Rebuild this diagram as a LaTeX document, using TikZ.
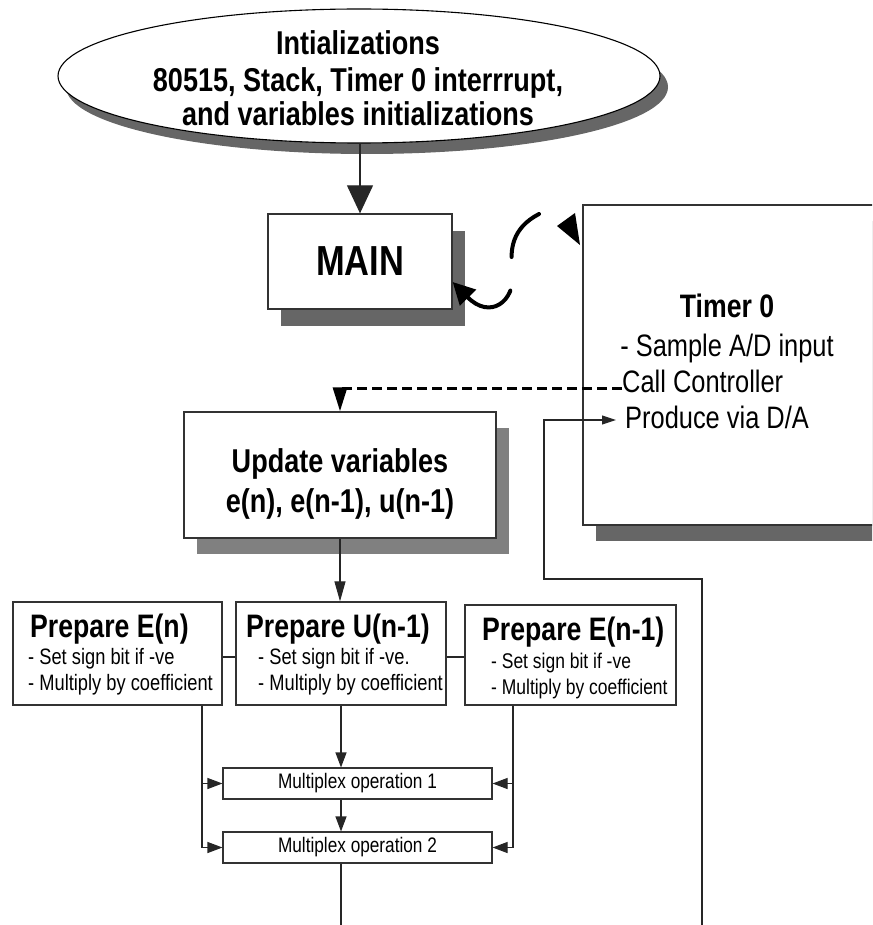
\documentclass[tikz,border=0pt]{standalone}
\usepackage{fontspec}
\setmainfont{Liberation Sans}[FakeStretch=0.82]
\usetikzlibrary{shapes.geometric,arrows.meta}
\begin{document}
\begin{tikzpicture}[x=1pt,y=-1pt,
  box/.style={draw=black!80,line width=1.3pt,fill=white,inner sep=0pt},
  shade/.style={fill=black!60,draw=none,inner sep=0pt},
  conn/.style={line width=1.1pt,draw=black!85},
  tipS/.style={-{Triangle[length=15pt,width=11pt]}},
  bigb/.style={font=\fontsize{33}{36}\selectfont\bfseries,inner sep=0pt},
  midr/.style={font=\fontsize{31}{36}\selectfont,inner sep=0pt},
  titb/.style={font=\fontsize{32.5}{36}\selectfont\bfseries,inner sep=0pt},
  smr/.style={font=\fontsize{22.3}{26}\selectfont,inner sep=0pt},
  smrb/.style={font=\fontsize{21.3}{26}\selectfont,inner sep=0pt}]
\useasboundingbox (0,0) rectangle (872,925);
\clip (0,0) rectangle (872,925);

% Initializations ellipse
\node[ellipse, shade, minimum width=602pt, minimum height=134pt] (initsh) at (367,87) {};
\node[ellipse, box, draw=black, line width=1.1pt, minimum width=602pt, minimum height=134pt] (init) at (359,76) {};
\node[bigb, anchor=base] (i1) at (358,55) {Intializations};
\node[bigb, anchor=base] (i2) at (358,92) {80515, Stack, Timer 0 interrrupt,};
\node[bigb, anchor=base] (i3) at (358,126) {and variables initializations};

% MAIN
\node[shade, minimum width=184pt, minimum height=95pt] (mainsh) at (373,278.5) {};
\node[box, minimum width=184pt, minimum height=95pt, font=\fontsize{42}{42}\selectfont\bfseries] (main) at (360,261.5) {MAIN};
\draw[conn, -{Triangle[length=28pt,width=26pt]}] (main.north |- init.south) -- (main.north);

% Timer 0
\node[shade, minimum width=317pt, minimum height=320pt] (timersh) at (754.5,381) {};
\node[box, minimum width=317pt, minimum height=320pt] (timer) at (741.5,365) {};
\node[titb, anchor=base] (t0) at (727,317) {Timer 0};
\node[midr, anchor=base] (t1) at (727,356) {- Sample A/D input};
\node[midr, anchor=base west] (t2) at (622,392) {Call Controller};
\node[midr, anchor=base west] (t3) at (625,428) {Produce via D/A};

% interrupt curved arrow
\fill (575,213) -- (580,245) -- (557,226) -- cycle;
\draw[line width=4pt, line cap=round, dash pattern=on 54pt off 34pt on 300pt,
      -{Triangle[length=22pt,width=22pt]}]
  (539,214) .. controls (512,228) and (509,250) .. (513,272)
  .. controls (515,302) and (490,320) .. ([yshift=-20.5pt]main.east);

% Update variables
\node[shade, fill=black!50, minimum width=312pt, minimum height=126pt] (updsh) at (353,491) {};
\node[box, minimum width=312pt, minimum height=126pt] (update) at (340,475) {};
\node[bigb, anchor=base] (u1) at (340,472) {Update variables};
\node[bigb, anchor=base] (u2) at (340,512) {e(n), e(n-1), u(n-1)};

% dashed call connector
\coordinate (dstart) at (622,388);
\draw[line width=3pt, dash pattern=on 10pt off 5pt, -{Triangle[length=24pt,width=14pt]}]
  (dstart) -- (dstart -| update.north) -- (update.north);

% Prepare boxes
\node[box, minimum width=209pt, minimum height=103pt] (pe) at (117.5,653.5) {};
\node[box, minimum width=210pt, minimum height=103pt] (pu) at (341,653.5) {};
\node[box, minimum width=211pt, minimum height=100pt] (pe1) at (570.5,655) {};

\node[titb, anchor=base west] (pet) at (30,637) {Prepare E(n)};
\node[smr, anchor=base west] (pes1) at (28,664) {- Set sign bit if -ve};
\node[smr, anchor=base west] (pes2) at (28,690) {- Multiply by coefficient};

\node[titb, anchor=base west] (put) at (246,637) {Prepare U(n-1)};
\node[smr, anchor=base west] (pus1) at (258,664) {- Set sign bit if -ve.};
\node[smr, anchor=base west] (pus2) at (258,690) {- Multiply by coefficient};

\node[titb, anchor=base west] (pe1t) at (482,640) {Prepare E(n-1)};
\node[smrb, anchor=base west] (pe1s1) at (491,668) {- Set sign bit if -ve};
\node[smrb, anchor=base west] (pe1s2) at (491,694) {- Multiply by coefficient};

\draw[conn, -{Triangle[length=20pt,width=11pt]}] (update.south) -- (update.south |- pu.north);
\path ([yshift=-3.5pt]pe.east) coordinate (h1);
\draw[conn] (h1) -- (h1 -| pu.west);
\path ([yshift=-3.5pt]pu.east) coordinate (h2);
\draw[conn] (h2) -- (h2 -| pe1.west);

% Multiplex boxes
\node[box, line width=1.1pt, minimum width=269pt, minimum height=31pt, font=\fontsize{21}{21}\selectfont] (m1) at (357.5,783.5) {Multiplex operation 1};
\node[box, line width=1.1pt, minimum width=269pt, minimum height=31pt, font=\fontsize{21}{21}\selectfont] (m2) at (357.5,847.5) {Multiplex operation 2};

\path (pe.south) ++(84.5,0) coordinate (lj);
\draw[conn,tipS] (lj) |- (m1.west);
\draw[conn,tipS] (lj) |- (m2.west);
\path (pe1.south) ++(-57.5,0) coordinate (rj);
\draw[conn,tipS] (rj) |- (m1.east);
\draw[conn,tipS] (rj) |- (m2.east);
\draw[conn,tipS] (pu.south) -- (pu.south |- m1.north);
\draw[conn,tipS] (pu.south |- m1.south) -- (pu.south |- m2.north);
\coordinate (outA) at (341,925);
\draw[conn] (pu.south |- m2.south) -- (outA);

% feedback line to D/A
\coordinate (outB) at (702,925);
\path (t3.base west) ++(-9,-8) coordinate (fbend);
\draw[conn, -{Triangle[length=14pt,width=9pt]}] (outB) -- ++(0,-346) -- ++(-158,0) |- (fbend);
\end{tikzpicture}
\end{document}
